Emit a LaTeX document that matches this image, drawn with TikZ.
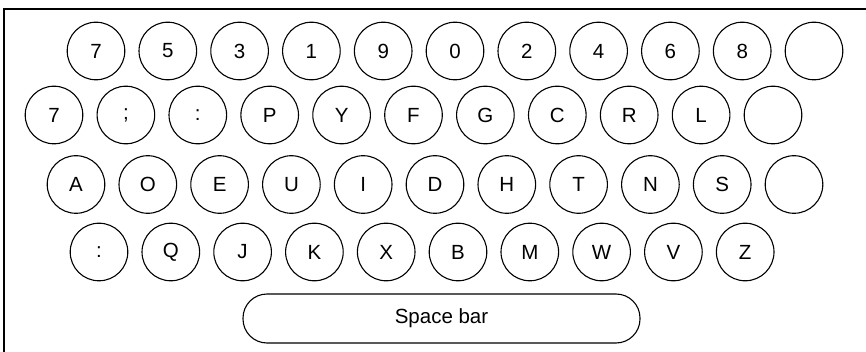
\documentclass[tikz,border=0pt]{standalone}
\usepackage{fontspec}
\setmainfont{Liberation Sans}
\begin{document}
\begin{tikzpicture}[x=1pt,y=-1pt,
  keycap/.style={draw,circle,line width=1.1pt,minimum size=57.6pt,inner sep=0pt,font=\fontsize{20.5}{24}\selectfont},
  spacekey/.style={draw,rectangle,rounded corners=24pt,line width=1.1pt,minimum width=397pt,minimum height=49pt,inner sep=0pt,font=\fontsize{20.5}{24}\selectfont},
  frameline/.style={draw,line width=2pt}]
\useasboundingbox (0,0) rectangle (866,352);
\coordinate (fbl) at (4,353);
\coordinate (ftl) at (4,9);
\coordinate (ftr) at (867,9);
\draw[frameline] (fbl) -- (ftl) -- (ftr);
\foreach \lab [count=\i from 0] in {7,5,3,1,9,0,2,4,6,8,{}}
  \node[keycap] (ra\i) at (96+71.8*\i,51) {\lab};
\foreach \lab [count=\i from 0] in {7,{;},{:},P,Y,F,G,C,R,L,{}}
  \node[keycap] (rb\i) at (54+71.9*\i,115) {\lab};
\foreach \lab [count=\i from 0] in {A,O,E,U,I,D,H,T,N,S,{}}
  \node[keycap] (rc\i) at (76+71.8*\i,184.5) {\lab};
\foreach \lab [count=\i from 0] in {{:},Q,J,K,X,B,M,W,V,Z}
  \node[keycap] (rd\i) at (99+71.8*\i,252) {\lab};
\node[spacekey] (space) at (441.5,318.5) {Space bar};
\end{tikzpicture}
\end{document}
